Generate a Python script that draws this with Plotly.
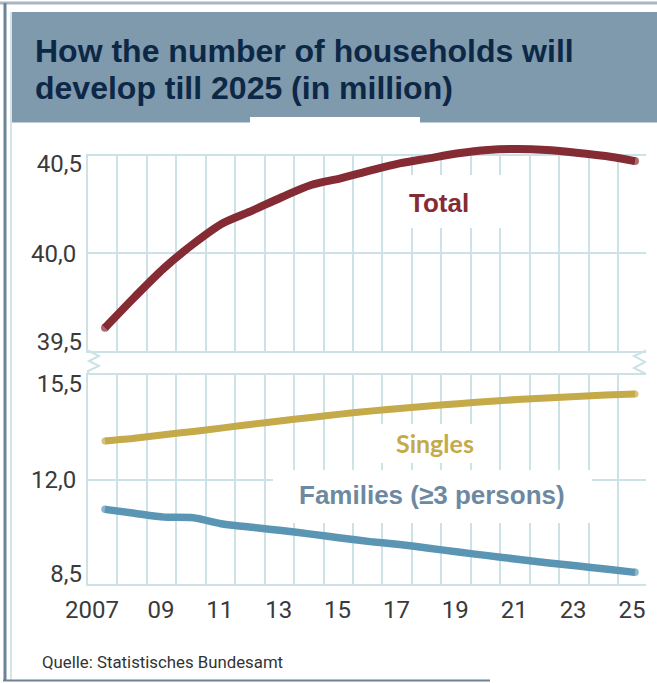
import plotly.graph_objects as go

# ---------------- data ----------------
years = list(range(2007, 2026))
total = [39.617, 39.774, 39.923, 40.048, 40.154, 40.219, 40.288, 40.351, 40.385, 40.425,
         40.462, 40.488, 40.514, 40.531, 40.536, 40.531, 40.517, 40.500, 40.474]
singles = [13.29, 13.38, 13.50, 13.61, 13.73, 13.85, 13.97, 14.08, 14.19, 14.29,
           14.38, 14.46, 14.54, 14.61, 14.68, 14.73, 14.78, 14.83, 14.86]
families = [11.00, 10.87, 10.74, 10.72, 10.51, 10.40, 10.29, 10.17, 10.04, 9.92,
            9.82, 9.70, 9.57, 9.45, 9.33, 9.21, 9.11, 9.00, 8.89]

x_tick_vals = [2007, 2009, 2011, 2013, 2015, 2017, 2019, 2021, 2023, 2025]
x_tick_text = ["2007\u2007\u2008", "09", "11", "13", "15", "17", "19", "21", "23", "25"]
top_ticks = [40.5, 40.0, 39.5]
top_tick_text = ["40,5", "40,0", "39,5"]
bot_ticks = [15.5, 12.0, 8.5]
bot_tick_text = ["15,5", "12,0", "8,5"]

title_lines = ["How the number of households will", "develop till 2025 (in million)"]
source = "Quelle: Statistisches Bundesamt"

# ---------------- styling / geometry ----------------
W, H = 657, 683
def fx(p): return p / W
def fy(p): return 1 - p / H

GRID = "#cde2e6"
TICKFONT = dict(family="Roboto, sans-serif", size=24, color="#3a3a3a")
C_TOTAL, C_SING, C_FAM = "#852b33", "#c4aa49", "#5b95b4"
CLEAR = "rgba(0,0,0,0)"

x_left_px, x_right_px = 88, 646
x0_px, x1_px = 105, 635           # positions of 2007 and 2025
ppy = (x1_px - x0_px) / (years[-1] - years[0])
xr = [years[0] - (x0_px - x_left_px) / ppy, years[-1] + (x_right_px - x1_px) / ppy]
xdom = [fx(x_left_px), fx(x_right_px)]
grid_x = [xr[0] + k for k in range(19)]

top_px = (156, 350.5)
bot_px = (375, 584)
top_dom = [fy(top_px[1]), fy(top_px[0])]
bot_dom = [fy(bot_px[1]), fy(bot_px[0])]
top_range = [min(top_ticks), max(top_ticks)]
bot_range = [min(bot_ticks), max(bot_ticks)]

# extended (invisible) subplot for Total so the line can rise above the 40,5 frame
k_top = (top_px[1] - top_px[0]) / (top_range[1] - top_range[0])
ext_px = (140, 362)
ext_range = [top_range[0] - (ext_px[1] - top_px[1]) / k_top,
             top_range[1] + (top_px[0] - ext_px[0]) / k_top]
ext_dom = [fy(ext_px[1]), fy(ext_px[0])]

fig = go.Figure()
# transparent carrier traces so every axis gets drawn
for xa, ya, yy in [("x2", "y2", total), ("x2", "y5", total), ("x2", "y6", total),
                   ("x", "y3", singles), ("x", "y4", singles)]:
    fig.add_trace(go.Scatter(x=years, y=yy, mode="lines", xaxis=xa, yaxis=ya,
                             line=dict(color=CLEAR, width=0), hoverinfo="skip", showlegend=False))

def cap_sizes(n, w):
    return [w] + [0] * (n - 2) + [w]

def series(y, color, width, smoothing, xa, ya):
    fig.add_trace(go.Scatter(x=years, y=y, mode="lines+markers", xaxis=xa, yaxis=ya,
                             line=dict(color=color, width=width, shape="spline", smoothing=smoothing),
                             marker=dict(color=color, size=cap_sizes(len(y), width), line=dict(width=0)),
                             hoverinfo="skip", showlegend=False, cliponaxis=False))

series(singles, C_SING, 7, 0.6, "x", "y")
series(families, C_FAM, 7.5, 0.6, "x", "y")
series(total, C_TOTAL, 8, 0.8, "x3", "y7")

minor = dict(tickmode="array", tickvals=grid_x, showgrid=True, gridcolor=GRID, gridwidth=2, ticks="")
common_y = dict(showgrid=True, gridcolor=GRID, gridwidth=2, zeroline=False, ticks="",
                tickfont=TICKFONT, ticklabelstandoff=5, fixedrange=True, automargin=False)

def overlay(ov, anchor, rng, val, txt, pos, shift):
    return dict(overlaying=ov, anchor=anchor, range=rng, tickmode="array", tickvals=[val],
                ticktext=[txt], ticklabelposition=pos, ticklabelshift=shift, showgrid=False,
                showline=False, zeroline=False, ticks="", tickfont=TICKFONT,
                ticklabelstandoff=5, side="left", automargin=False)

fig.update_layout(
    width=W, height=H, autosize=False,
    margin=dict(l=0, r=0, t=0, b=0, pad=0, autoexpand=False),
    paper_bgcolor="white", plot_bgcolor="rgba(0,0,0,0)",
    xaxis=dict(domain=xdom, range=xr, anchor="y", tickmode="array", tickvals=x_tick_vals,
               ticktext=x_tick_text, tickangle=0, showgrid=False, minor=minor, showline=True,
               mirror=True, linecolor=GRID, linewidth=2, zeroline=False, ticks="",
               tickfont=TICKFONT, ticklabelstandoff=3, ticklabelshift=-3, automargin=False),
    yaxis=dict(domain=bot_dom, range=bot_range, anchor="x", tickmode="array",
               tickvals=[bot_ticks[1]], ticktext=[bot_tick_text[1]], showline=True,
               linecolor=GRID, linewidth=2, **common_y),
    xaxis2=dict(domain=xdom, range=xr, anchor="y2", showticklabels=False, showgrid=False,
                minor=minor, showline=True, mirror=True, linecolor=GRID, linewidth=2,
                zeroline=False, ticks="", automargin=False),
    yaxis2=dict(domain=top_dom, range=top_range, anchor="x2", tickmode="array",
                tickvals=[top_ticks[1]], ticktext=[top_tick_text[1]], showline=True,
                linecolor=GRID, linewidth=2, **common_y),
    yaxis3=overlay("y", "x", bot_range, bot_ticks[0], bot_tick_text[0], "outside bottom", -8),
    yaxis4=overlay("y", "x", bot_range, bot_ticks[2], bot_tick_text[2], "outside top", 6),
    yaxis5=overlay("y2", "x2", top_range, top_ticks[0], top_tick_text[0], "outside bottom", -9),
    yaxis6=overlay("y2", "x2", top_range, top_ticks[2], top_tick_text[2], "outside top", 8),
    xaxis3=dict(domain=xdom, range=xr, anchor="y7", visible=False, automargin=False),
    yaxis7=dict(domain=ext_dom, range=ext_range, anchor="x3", visible=False, automargin=False),
)

shapes = []
def rect(x0, y0, x1, y1, color, layer="above"):
    shapes.append(dict(type="rect", xref="paper", yref="paper", x0=fx(x0), x1=fx(x1),
                       y0=fy(y1), y1=fy(y0), fillcolor=color, line=dict(width=0), layer=layer))
def seg(pts, color, width):
    path = "M " + " L ".join(f"{fx(a):.5f},{fy(b):.5f}" for a, b in pts)
    shapes.append(dict(type="path", xref="paper", yref="paper", path=path,
                       line=dict(color=color, width=width), layer="above"))

# frame and banner
rect(12, 12, W, 122.5, "#7e9aac", layer="below")
rect(250, 117, 420, 124, "white")
seg([(0, 3), (W, 3)], "#a7b7c3", 3)
seg([(5, 3), (5, 681)], "#6b8297", 3)
seg([(11, 12), (11, 681)], "#d6e4ea", 2)
seg([(3, 680.5), (490, 680.5)], "#6b8297", 2)
# axis break zigzags
seg([(88, 350.5), (99, 356), (89, 361), (99, 366), (88, 371), (88, 375)], GRID, 2)
seg([(646, 350.5), (634, 356), (645, 362), (634, 368), (646, 374)], GRID, 2)
# white label boxes
rect(395, 175, 503, 228, "white")
rect(365, 424, 480, 463, "white")
rect(273, 470, 592, 523, "white")
fig.update_layout(shapes=shapes)

ann = []
TF = dict(family="Liberation Sans, Arial, sans-serif", size=32, color="#0d2847")
ann.append(dict(text=f"<b>{title_lines[0]}</b>", x=fx(33), y=fy(51), xanchor="left",
                yanchor="middle", font=TF))
ann.append(dict(text=f"<b>{title_lines[1]}</b>", x=fx(33), y=fy(88), xanchor="left",
                yanchor="middle", font=TF))
ann.append(dict(text="<b>Total</b>", x=fx(438.5), y=fy(202.5), xanchor="center", yanchor="middle",
                font=dict(family="Liberation Sans, Arial, sans-serif", size=26, color=C_TOTAL)))
ann.append(dict(text="<b>Singles</b>", x=fx(434.5), y=fy(443), xanchor="center", yanchor="middle",
                font=dict(family="Lato, Open Sans, sans-serif", size=25, color=C_SING)))
ann.append(dict(text="<b>Families (≥3 persons)</b>", x=fx(432), y=fy(495), xanchor="center",
                yanchor="middle",
                font=dict(family="Liberation Sans, Arial, sans-serif", size=26, color="#6d89a2")))
ann.append(dict(text=source, x=fx(40), y=fy(662), xanchor="left", yanchor="middle",
                font=dict(family="Roboto, sans-serif", size=16.8, color="#333333")))
for a in ann:
    a.update(xref="paper", yref="paper", showarrow=False)
fig.update_layout(annotations=ann)

fig.write_html("out.html")
